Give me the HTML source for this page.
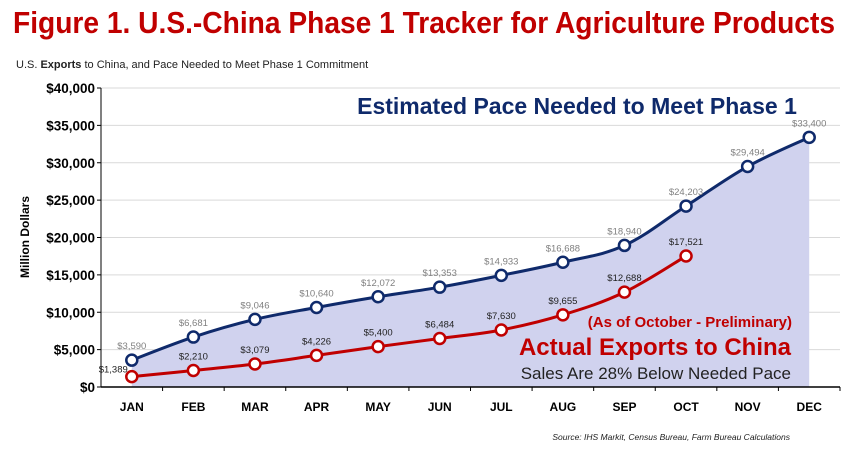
<!DOCTYPE html>
<html><head><meta charset="utf-8"><style>
body{margin:0;background:#fff;}
svg{display:block;font-family:"Liberation Sans",sans-serif;}
</style></head><body>
<svg width="860" height="465" viewBox="0 0 860 465">
<text x="424" y="33" text-anchor="middle" font-size="31" font-weight="bold" fill="#c00000" textLength="822" lengthAdjust="spacingAndGlyphs">Figure 1. U.S.-China Phase 1 Tracker for Agriculture Products</text>
<text x="16" y="68" font-size="11" fill="#222">U.S. <tspan font-weight="bold">Exports</tspan> to China, and Pace Needed to Meet Phase 1 Commitment</text>
<text transform="translate(29,237) rotate(-90)" text-anchor="middle" font-size="12" font-weight="bold" fill="#000">Million Dollars</text>
<g id="grid"></g>
<g id="area"></g>
<g id="axes"></g>
<g id="series"></g>
<text x="577" y="114" text-anchor="middle" font-size="23" font-weight="bold" fill="#0f2a6b">Estimated Pace Needed to Meet Phase 1</text>
<text x="792" y="327" text-anchor="end" font-size="15" font-weight="bold" fill="#c00000">(As of October - Preliminary)</text>
<text x="791" y="355" text-anchor="end" font-size="24" font-weight="bold" fill="#c00000">Actual Exports to China</text>
<text x="791" y="379" text-anchor="end" font-size="17" fill="#222">Sales Are 28% Below Needed Pace</text>
<text x="790" y="440" text-anchor="end" font-size="8.5" font-style="italic" fill="#222">Source: IHS Markit, Census Bureau, Farm Bureau Calculations</text>
</svg>
<script>
const months=["JAN","FEB","MAR","APR","MAY","JUN","JUL","AUG","SEP","OCT","NOV","DEC"];
const paceValues=[3590,6681,9046,10640,12072,13353,14933,16688,18940,24203,29494,33400];
const actualValues=[1389,2210,3079,4226,5400,6484,7630,9655,12688,17521];
const yTicks=[0,5000,10000,15000,20000,25000,30000,35000,40000];
const NS="http://www.w3.org/2000/svg";
const X0=101,X1=840,Y0=387,Y1=88,YMAX=40000;
const step=(X1-X0)/months.length;
function xs(i){return X0+step*(i+0.5);}
function ys(v){return Y0-(v/YMAX)*(Y0-Y1);}
function mk(tag,attrs,parent){const e=document.createElementNS(NS,tag);for(const k in attrs)e.setAttribute(k,attrs[k]);document.getElementById(parent).appendChild(e);return e;}
function fmt(v){return "$"+v.toLocaleString("en-US");}
function smooth(pts){let d="M"+pts[0][0]+","+pts[0][1];for(let i=0;i<pts.length-1;i++){const p0=pts[i-1]||pts[i],p1=pts[i],p2=pts[i+1],p3=pts[i+2]||p2;const t=0.18;d+=" C"+(p1[0]+(p2[0]-p0[0])*t)+","+(p1[1]+(p2[1]-p0[1])*t)+" "+(p2[0]-(p3[0]-p1[0])*t)+","+(p2[1]-(p3[1]-p1[1])*t)+" "+p2[0]+","+p2[1];}return d;}
yTicks.forEach(v=>{
 if(v>0){const g=mk("line",{x1:X0,x2:X1,y1:ys(v),y2:ys(v),stroke:"#d9d9d9","stroke-width":1},"grid");
 
 }
 const t=mk("text",{x:95,y:ys(v)+5,"text-anchor":"end","font-size":"13.5","font-weight":"bold",fill:"#000"},"axes");t.textContent=fmt(v);
 
 
 const tk=mk("line",{x1:X0-4,x2:X0,y1:ys(v),y2:ys(v),stroke:"#000"},"axes");
 
 
});
const pp=paceValues.map((v,i)=>[xs(i),ys(v)]);
const ap=actualValues.map((v,i)=>[xs(i),ys(v)]);
const area=mk("path",{d:smooth(pp)+" L"+pp[pp.length-1][0]+","+Y0+" L"+pp[0][0]+","+Y0+" Z",fill:"#d0d2ee"},"area");


const ya=mk("line",{x1:X0,x2:X0,y1:Y1,y2:Y0,stroke:"#000","stroke-width":1},"axes");


const xa=mk("line",{x1:X0,x2:X1,y1:Y0,y2:Y0,stroke:"#000","stroke-width":1.5},"axes");


months.forEach((m,i)=>{
 const tk=mk("line",{x1:X0+step*(i+1),x2:X0+step*(i+1),y1:Y0,y2:Y0+4,stroke:"#000"},"axes");
 
 
 const t=mk("text",{x:xs(i),y:411,"text-anchor":"middle","font-size":"12","font-weight":"bold",fill:"#000"},"axes");t.textContent=m;
 
 
});
function series(pts,vals,color,lblColor,name){
 const p=mk("path",{d:smooth(pts),fill:"none",stroke:color,"stroke-width":3},"series");
 
 
 pts.forEach((q,i)=>{
  const c=mk("circle",{cx:q[0],cy:q[1],r:5.5,fill:"#fff",stroke:color,"stroke-width":2.5},"series");
  
  
  let lx=q[0],anchor="middle";
  if(name==="actual"&&i===0){lx=q[0]-4;anchor="end";}
  const t=mk("text",{x:lx,y:q[1]-(name==="actual"&&i===0?4:11),"text-anchor":anchor,"font-size":"9.5",fill:lblColor},"series");t.textContent=fmt(vals[i]);
  
  
 });
}
series(pp,paceValues,"#0f2a6b","#808080","pace");
series(ap,actualValues,"#c00000","#222","actual");
</script>
</body></html>
